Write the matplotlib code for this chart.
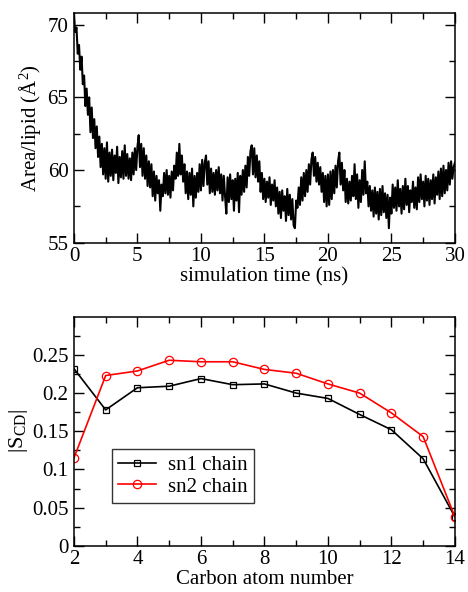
import numpy as np
import matplotlib
matplotlib.use("Agg")
import matplotlib.pyplot as plt

# area per lipid over the run, every 0.1 ns
area_per_lipid = [
    70.6, 69.5, 69.8, 68.0, 68.6, 66.9, 67.8, 65.9, 66.5, 64.4,
    65.6, 63.8, 65.0, 62.6, 64.3, 62.2, 63.5, 61.5, 63.0, 60.9,
    62.3, 60.2, 61.8, 59.7, 61.5, 59.4, 61.9, 59.2, 61.2, 59.6,
    61.4, 59.3, 61.0, 59.8, 61.6, 59.1, 60.9, 59.5, 61.3, 59.4,
    61.7, 59.6, 61.1, 59.4, 60.8, 59.3, 61.2, 59.7, 61.5, 60.0,
    61.6, 62.4, 60.2, 61.8, 59.6, 61.5, 59.4, 61.0, 58.9, 60.6,
    58.8, 60.4, 58.2, 59.9, 57.9, 59.6, 58.4, 59.3, 57.2, 59.0,
    58.2, 59.8, 58.4, 60.0, 58.3, 59.6, 58.1, 59.9, 58.6, 60.3,
    59.4, 61.2, 59.6, 61.8, 59.7, 61.0, 59.2, 60.4, 58.4, 59.9,
    58.0, 59.8, 58.3, 60.1, 57.5, 59.6, 58.1, 59.8, 58.5, 60.4,
    58.6, 60.7, 58.9, 60.5, 61.0, 59.0, 60.6, 58.4, 60.1, 58.5,
    59.8, 58.3, 60.0, 58.6, 60.2, 58.4, 59.7, 57.9, 59.6, 58.2,
    57.0, 59.5, 57.8, 59.7, 58.0, 59.3, 57.2, 59.4, 57.9, 59.8,
    57.1, 59.6, 58.3, 60.0, 58.5, 60.3, 58.8, 60.9, 59.6, 61.3,
    61.7, 59.7, 61.5, 59.5, 61.0, 59.2, 60.6, 58.5, 59.8, 58.0,
    59.4, 57.8, 59.2, 58.1, 59.5, 57.6, 59.0, 57.9, 59.3, 57.5,
    58.8, 57.0, 58.5, 56.7, 58.6, 57.2, 58.2, 56.5, 58.7, 56.9,
    58.3, 56.6, 58.0, 56.2, 56.0, 57.9, 57.4, 58.8, 57.6, 59.5,
    57.9, 59.8, 58.2, 60.0, 58.5, 60.4, 59.0, 60.7, 61.2, 59.6,
    60.9, 59.2, 60.5, 59.0, 60.2, 58.5, 59.8, 57.8, 59.6, 57.5,
    59.7, 57.6, 59.9, 58.0, 60.0, 58.4, 60.3, 58.8, 60.6, 61.2,
    59.0, 60.5, 58.6, 60.0, 57.8, 59.4, 57.7, 59.2, 57.9, 59.6,
    58.2, 60.4, 58.0, 59.7, 57.4, 59.3, 57.8, 60.0, 58.3, 60.6,
    58.4, 59.2, 57.5, 58.9, 57.2, 58.6, 56.8, 58.8, 57.0, 58.5,
    56.6, 58.7, 56.9, 58.9, 57.1, 58.4, 56.7, 58.3, 56.0, 58.1,
    57.0, 59.0, 57.4, 58.8, 57.2, 59.3, 57.5, 58.7, 57.0, 58.9,
    57.3, 59.4, 57.6, 58.9, 57.1, 58.6, 57.8, 59.2, 57.4, 58.8,
    57.3, 59.5, 57.8, 59.7, 58.0, 59.2, 57.5, 59.6, 57.9, 59.4,
    57.6, 59.3, 58.0, 59.7, 57.7, 59.5, 58.3, 59.9, 58.0, 60.1,
    58.2, 60.3, 58.4, 60.0, 58.6, 60.5, 59.0, 60.6, 59.4, 60.2,
    60.5,
]
sim_time = np.linspace(0, 30, len(area_per_lipid))

# order parameters per carbon
carbons = [2, 3, 4, 5, 6, 7, 8, 9, 10, 11, 12, 13, 14]
scd_sn1 = [0.232, 0.178, 0.207, 0.209, 0.219, 0.211, 0.212, 0.200, 0.193, 0.172, 0.152, 0.114, 0.038]
scd_sn2 = [0.115, 0.223, 0.229, 0.243, 0.241, 0.241, 0.231, 0.226, 0.212, 0.200, 0.174, 0.143, 0.038]

plt.rcParams["font.family"] = ["Liberation Serif", "DejaVu Serif"]
plt.rcParams["mathtext.fontset"] = "custom"
plt.rcParams["mathtext.rm"] = "Liberation Serif"
plt.rcParams["mathtext.it"] = "Liberation Serif:italic"
plt.rcParams["font.size"] = 15

FS = 15


def style_axis(ax):
    ax.tick_params(which="both", direction="in", top=True, right=True,
                   labelsize=FS)
    ax.tick_params(axis="x", which="both", pad=3)
    ax.tick_params(axis="y", which="both", pad=4)
    ax.tick_params(which="major", length=7, width=1)
    ax.tick_params(which="minor", length=4, width=1)
    for s in ax.spines.values():
        s.set_linewidth(1.1)


fig = plt.figure(figsize=(4.68, 5.92), dpi=100)

# top: area per lipid
ax1 = fig.add_axes([0.158, 0.590, 0.814, 0.388])
ax1.plot(sim_time, area_per_lipid, color="black", lw=1.5)
ax1.set_xlim(0, 30)
ax1.set_ylim(55, 70.8)
ax1.set_xticks(np.arange(0, 31, 5))
ax1.set_xticks(np.arange(2.5, 30, 5), minor=True)
ax1.set_yticks([55, 60, 65, 70])
ax1.set_yticks([57.5, 62.5, 67.5], minor=True)
ax1.set_xlabel("simulation time (ns)", fontsize=FS, labelpad=1)
ax1.set_ylabel("Area/lipid (Å$^2$)", fontsize=FS, labelpad=3)
style_axis(ax1)

# bottom: order parameters
ax2 = fig.add_axes([0.158, 0.078, 0.814, 0.387])
ax2.plot(carbons, scd_sn1, color="black", lw=1.2, marker="s", ms=5,
         mfc="none", mec="black", mew=0.9, label="sn1 chain")
ax2.plot(carbons, scd_sn2, color="red", lw=1.2, marker="o", ms=6,
         mfc="none", mec="red", mew=0.9, label="sn2 chain")
ax2.set_xlim(2, 14)
ax2.set_ylim(0, 0.3)
ax2.set_xticks(np.arange(2, 15, 2))
ax2.set_xticks(np.arange(3, 14, 2), minor=True)
ax2.set_yticks([0, 0.05, 0.1, 0.15, 0.2, 0.25])
ax2.set_yticklabels(["0", "0.05", "0.1", "0.15", "0.2", "0.25"])
ax2.set_yticks(np.arange(0.025, 0.3, 0.05), minor=True)
ax2.set_xlabel("Carbon atom number", fontsize=FS, labelpad=1)
ax2.set_ylabel(r"$|\mathrm{S}_{\mathrm{CD}}|$", fontsize=FS + 1, labelpad=1)
style_axis(ax2)

leg = ax2.legend(loc="lower left", bbox_to_anchor=(0.1, 0.188), fontsize=FS,
                 frameon=True, fancybox=False, handlelength=1.8,
                 borderpad=0.3, labelspacing=0.1, handletextpad=0.6,
                 borderaxespad=0)
leg.get_frame().set_edgecolor("black")
leg.get_frame().set_linewidth(1.0)

fig.savefig("out.png", dpi=100)
